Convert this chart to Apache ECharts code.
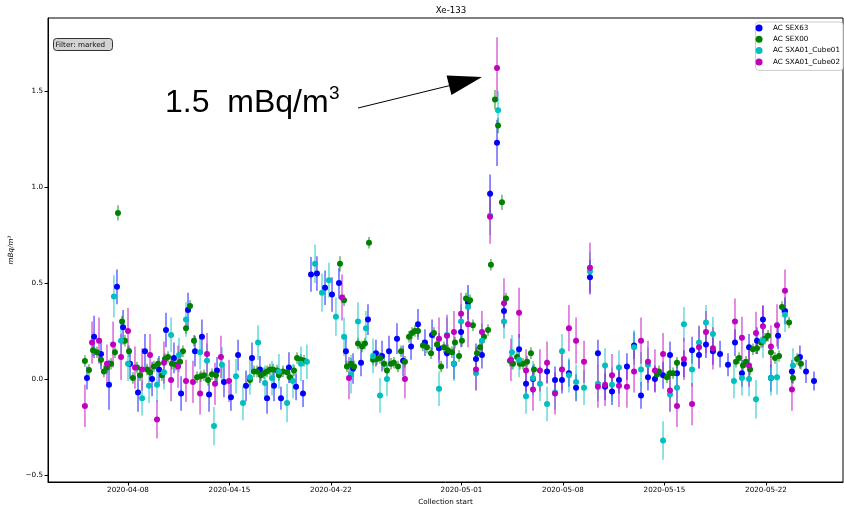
<!DOCTYPE html>
<html>
<head>
<meta charset="utf-8">
<script src="https://cdn.jsdelivr.net/npm/echarts@6/dist/echarts.min.js"></script>
<style>
  html, body { margin: 0; padding: 0; background: #fff; }
  #chart { width: 844px; height: 506px; }
</style>
</head>
<body>
<div id="chart"></div>
<script>
// x values are days since 2020-04-01 00:00 UTC, then value and error (mBq/m3)
const sex63 = [
  [4.17, 0.005, 0.06], [4.66, 0.22, 0.11], [5.14, 0.13, 0.08], [5.69, -0.03, 0.13], [6.24, 0.48, 0.09],
  [6.66, 0.27, 0.09], [7.14, 0.08, 0.08], [7.69, -0.07, 0.10], [8.17, 0.145, 0.09], [8.66, 0.0, 0.09],
  [9.14, 0.05, 0.07], [9.62, 0.255, 0.09], [10.17, 0.11, 0.08], [10.66, -0.075, 0.09], [11.14, 0.36, 0.09],
  [11.62, 0.145, 0.08], [12.10, 0.22, 0.09], [12.59, -0.08, 0.09], [13.14, 0.045, 0.07], [13.62, -0.015, 0.08],
  [14.10, -0.095, 0.07], [14.59, 0.125, 0.08], [15.14, -0.035, 0.08], [15.55, 0.11, 0.08], [16.10, 0.05, 0.07],
  [16.59, -0.10, 0.08], [17.07, -0.035, 0.08], [17.55, -0.10, 0.06], [18.10, 0.06, 0.08], [18.59, -0.04, 0.07],
  [19.07, -0.075, 0.07], [19.62, 0.545, 0.09], [20.03, 0.55, 0.09], [20.59, 0.475, 0.09], [21.07, 0.44, 0.09],
  [21.55, 0.50, 0.08], [22.03, 0.145, 0.08], [22.52, 0.055, 0.08], [23.07, 0.085, 0.07], [23.55, 0.31, 0.08],
  [24.10, 0.135, 0.07], [24.52, 0.12, 0.08], [25.0, 0.145, 0.08], [25.55, 0.21, 0.08], [25.97, 0.095, 0.08],
  [26.52, 0.17, 0.07], [27.0, 0.285, 0.08], [27.48, 0.19, 0.07], [27.97, 0.23, 0.08], [28.45, 0.16, 0.08],
  [29.0, 0.135, 0.08], [29.48, 0.08, 0.08], [29.97, 0.245, 0.08], [30.45, 0.40, 0.09], [31.0, 0.105, 0.08],
  [31.41, 0.125, 0.07], [31.97, 0.965, 0.10], [32.45, 1.23, 0.12], [32.93, 0.355, 0.08], [33.97, 0.155, 0.08],
  [34.45, -0.025, 0.07], [34.93, 0.0, 0.07], [35.90, 0.04, 0.06], [36.45, -0.005, 0.07], [36.93, -0.005, 0.07],
  [37.41, 0.03, 0.07], [37.90, -0.045, 0.07], [38.86, 0.53, 0.09], [39.41, 0.135, 0.07], [39.90, -0.04, 0.07],
  [40.38, -0.065, 0.07], [40.86, -0.005, 0.07], [41.41, 0.065, 0.07], [41.90, 0.175, 0.07], [42.38, -0.085, 0.07],
  [42.86, 0.01, 0.07], [43.34, 0.0, 0.07], [43.90, 0.02, 0.07], [44.38, 0.125, 0.07], [44.86, 0.03, 0.07],
  [45.34, 0.08, 0.07], [45.90, 0.15, 0.07], [46.38, 0.125, 0.07], [46.86, 0.18, 0.07], [47.34, 0.145, 0.07],
  [47.83, 0.13, 0.07], [48.38, 0.075, 0.06], [48.86, 0.19, 0.07], [49.34, 0.03, 0.07], [49.83, 0.165, 0.07],
  [50.38, 0.20, 0.07], [50.79, 0.31, 0.07], [51.34, 0.005, 0.07], [51.83, 0.225, 0.07], [52.31, 0.355, 0.07],
  [52.79, 0.04, 0.06], [53.34, 0.115, 0.06], [53.76, 0.04, 0.06], [54.31, -0.01, 0.05]
]
const sex00 = [
  [4.03, 0.094, 0.03], [4.31, 0.047, 0.03], [4.59, 0.15, 0.03], [4.86, 0.14, 0.03], [5.14, 0.10, 0.03],
  [5.34, 0.04, 0.03], [5.55, 0.06, 0.03], [5.83, 0.08, 0.03], [6.10, 0.14, 0.03], [6.31, 0.865, 0.04],
  [6.59, 0.30, 0.03], [6.79, 0.20, 0.03], [7.07, 0.145, 0.03], [7.34, 0.005, 0.03], [7.62, 0.06, 0.03],
  [7.83, 0.02, 0.03], [8.31, 0.05, 0.03], [8.52, 0.035, 0.03], [8.79, 0.065, 0.03], [9.07, 0.08, 0.03],
  [9.34, 0.02, 0.03], [9.55, 0.105, 0.03], [9.76, 0.115, 0.03], [10.03, 0.08, 0.03], [10.31, 0.075, 0.03],
  [10.59, 0.09, 0.03], [10.79, 0.145, 0.03], [11.0, 0.265, 0.03], [11.28, 0.38, 0.03], [11.55, 0.20, 0.03],
  [11.76, 0.01, 0.03], [12.03, 0.015, 0.03], [12.24, 0.02, 0.03], [12.52, -0.005, 0.03], [12.79, 0.025, 0.03],
  [13.07, 0.02, 0.03], [15.41, -0.005, 0.03], [15.69, 0.04, 0.03], [15.90, 0.04, 0.03], [16.17, 0.02, 0.03],
  [16.38, 0.03, 0.03], [16.59, 0.04, 0.03], [16.79, 0.05, 0.03], [17.0, 0.05, 0.03], [17.28, 0.045, 0.03],
  [17.41, 0.02, 0.03], [17.69, 0.04, 0.03], [17.97, 0.035, 0.03], [18.17, 0.01, 0.03], [18.45, 0.045, 0.03],
  [18.66, 0.11, 0.03], [18.93, 0.10, 0.03], [19.14, 0.095, 0.03], [21.62, 0.60, 0.04], [21.90, 0.41, 0.03],
  [22.10, 0.065, 0.03], [22.38, 0.08, 0.03], [22.59, 0.065, 0.03], [22.86, 0.185, 0.03], [23.14, 0.17, 0.03],
  [23.34, 0.185, 0.03], [23.62, 0.71, 0.03], [23.90, 0.10, 0.03], [24.17, 0.105, 0.03], [24.38, 0.11, 0.03],
  [24.66, 0.08, 0.03], [24.86, 0.045, 0.03], [25.14, 0.08, 0.03], [25.34, 0.085, 0.03], [25.62, 0.065, 0.03],
  [25.83, 0.145, 0.03], [26.10, 0.09, 0.03], [26.38, 0.22, 0.03], [26.59, 0.24, 0.03], [26.79, 0.25, 0.03],
  [27.0, 0.25, 0.03], [27.34, 0.175, 0.03], [27.62, 0.165, 0.03], [27.90, 0.135, 0.03], [28.10, 0.24, 0.03],
  [28.31, 0.18, 0.03], [28.59, 0.065, 0.03], [28.79, 0.165, 0.03], [29.07, 0.15, 0.03], [29.34, 0.14, 0.03],
  [29.55, 0.19, 0.03], [29.83, 0.12, 0.03], [30.03, 0.20, 0.03], [30.31, 0.42, 0.03], [30.59, 0.41, 0.03],
  [30.79, 0.28, 0.03], [31.07, 0.135, 0.03], [31.28, 0.165, 0.03], [31.55, 0.22, 0.03], [31.83, 0.255, 0.03],
  [32.03, 0.595, 0.03], [32.31, 1.455, 0.05], [32.52, 1.32, 0.04], [32.79, 0.92, 0.04], [33.07, 0.42, 0.03],
  [33.34, 0.095, 0.03], [33.55, 0.08, 0.03], [33.83, 0.115, 0.03], [34.03, 0.08, 0.03], [34.24, 0.08, 0.03],
  [34.52, 0.09, 0.03], [34.79, 0.135, 0.03], [35.0, 0.05, 0.03], [43.48, 0.025, 0.03], [43.62, 0.04, 0.03],
  [44.17, 0.01, 0.03], [44.38, 0.03, 0.03], [44.59, 0.03, 0.03], [44.86, 0.085, 0.03], [48.93, 0.09, 0.03],
  [49.14, 0.11, 0.03], [49.41, 0.07, 0.03], [49.62, 0.09, 0.03], [49.90, 0.05, 0.03], [50.10, 0.155, 0.03],
  [50.38, 0.16, 0.03], [50.66, 0.19, 0.03], [50.93, 0.21, 0.03], [51.14, 0.225, 0.03], [51.34, 0.14, 0.03],
  [51.62, 0.11, 0.03], [51.90, 0.12, 0.03], [52.10, 0.375, 0.03], [52.59, 0.295, 0.03], [52.86, 0.005, 0.03],
  [53.14, 0.105, 0.03], [53.41, 0.08, 0.03]
]
const cube01 = [
  [6.03, 0.43, 0.11], [6.52, 0.20, 0.09], [7.0, 0.08, 0.09], [7.97, -0.10, 0.09], [8.45, -0.035, 0.09],
  [9.0, -0.03, 0.09], [9.48, 0.035, 0.09], [9.97, 0.23, 0.09], [10.52, 0.125, 0.09], [11.0, 0.31, 0.09],
  [11.97, 0.14, 0.09], [12.45, 0.095, 0.09], [12.93, -0.245, 0.10], [13.48, 0.075, 0.09], [14.45, 0.015, 0.09],
  [14.93, -0.125, 0.09], [15.41, 0.01, 0.09], [15.97, 0.19, 0.09], [16.45, -0.02, 0.09], [16.93, 0.005, 0.09],
  [17.41, 0.04, 0.09], [17.97, -0.125, 0.10], [18.38, -0.01, 0.09], [18.93, 0.08, 0.09], [19.34, 0.09, 0.09],
  [19.90, 0.60, 0.10], [20.38, 0.45, 0.10], [20.86, 0.515, 0.09], [21.34, 0.325, 0.10], [21.90, 0.22, 0.10],
  [22.38, 0.025, 0.10], [22.86, 0.30, 0.10], [23.41, 0.265, 0.09], [23.90, 0.12, 0.09], [24.38, -0.085, 0.09],
  [24.86, 0.0, 0.09], [28.45, -0.05, 0.09], [29.0, 0.23, 0.09], [29.48, 0.08, 0.09], [29.97, 0.30, 0.09],
  [30.45, 0.375, 0.09], [31.0, 0.03, 0.09], [31.41, 0.20, 0.09], [31.97, 0.85, 0.10], [32.52, 1.40, 0.10],
  [32.93, 0.30, 0.09], [33.48, 0.14, 0.09], [33.97, 0.10, 0.09], [34.45, -0.09, 0.09], [34.93, 0.005, 0.09],
  [35.41, -0.025, 0.09], [35.90, -0.13, 0.09], [36.45, -0.07, 0.09], [36.93, 0.145, 0.09], [37.41, 0.02, 0.09],
  [37.90, -0.015, 0.09], [38.45, -0.045, 0.09], [38.86, 0.56, 0.10], [39.41, -0.025, 0.09], [39.90, 0.07, 0.09],
  [40.38, -0.03, 0.09], [40.86, 0.06, 0.09], [41.90, 0.165, 0.09], [42.38, 0.05, 0.09], [42.86, 0.075, 0.09],
  [43.90, -0.32, 0.10], [44.38, -0.08, 0.09], [44.86, -0.045, 0.09], [45.34, 0.285, 0.09], [45.90, 0.05, 0.09],
  [46.38, 0.19, 0.09], [46.86, 0.295, 0.09], [47.34, 0.235, 0.09], [48.79, -0.01, 0.09], [49.34, 0.005, 0.09],
  [49.83, 0.0, 0.09], [50.31, -0.105, 0.10], [50.79, 0.20, 0.09], [51.34, 0.005, 0.09], [51.76, 0.01, 0.09],
  [52.31, 0.335, 0.09], [52.86, 0.07, 0.09]
]
const cube02 = [
  [4.03, -0.14, 0.11], [4.52, 0.19, 0.11], [5.0, 0.20, 0.12], [5.55, 0.08, 0.10], [5.97, 0.18, 0.12],
  [6.52, 0.115, 0.12], [7.0, 0.25, 0.12], [7.48, 0.06, 0.11], [7.97, 0.05, 0.11], [8.52, 0.125, 0.11],
  [9.0, -0.21, 0.10], [9.48, 0.085, 0.11], [9.97, -0.005, 0.11], [10.45, 0.065, 0.11], [11.0, -0.01, 0.11],
  [11.48, -0.015, 0.11], [11.97, -0.075, 0.11], [12.45, 0.13, 0.11], [13.0, -0.025, 0.11], [13.41, 0.115, 0.11],
  [13.97, -0.01, 0.11], [21.76, 0.425, 0.12], [22.24, 0.005, 0.11], [26.10, 0.0, 0.10], [28.45, 0.21, 0.11],
  [29.0, 0.225, 0.11], [29.48, 0.245, 0.11], [29.97, 0.34, 0.11], [30.45, 0.285, 0.12], [31.0, 0.05, 0.11],
  [31.41, 0.245, 0.11], [31.97, 0.845, 0.14], [32.45, 1.62, 0.16], [32.93, 0.395, 0.13], [33.41, 0.10, 0.11],
  [33.97, 0.345, 0.13], [34.45, 0.045, 0.11], [34.93, -0.055, 0.11], [35.41, 0.045, 0.11], [35.90, 0.085, 0.11],
  [36.45, -0.075, 0.11], [36.93, 0.05, 0.11], [37.41, 0.265, 0.12], [37.90, 0.20, 0.12], [38.45, 0.09, 0.11],
  [38.86, 0.58, 0.13], [39.41, -0.04, 0.11], [39.90, -0.03, 0.11], [40.38, 0.02, 0.11], [40.86, -0.035, 0.11],
  [41.41, -0.04, 0.11], [41.90, 0.04, 0.11], [42.38, 0.20, 0.12], [42.86, 0.09, 0.11], [43.34, 0.045, 0.11],
  [43.90, 0.13, 0.11], [44.38, -0.06, 0.11], [44.86, -0.14, 0.11], [45.34, 0.105, 0.11], [45.90, -0.13, 0.11],
  [46.38, 0.165, 0.11], [46.86, 0.245, 0.11], [47.34, 0.16, 0.11], [48.86, 0.30, 0.12], [49.34, 0.215, 0.11],
  [49.83, 0.07, 0.11], [50.31, 0.24, 0.11], [50.79, 0.275, 0.11], [51.34, 0.17, 0.11], [51.76, 0.28, 0.11],
  [52.31, 0.46, 0.11], [52.79, -0.055, 0.11]
]

const seriesNames = ['AC SEX63', 'AC SEX00', 'AC SXA01_Cube01', 'AC SXA01_Cube02']
const colorList = ['#0000ff', '#008000', '#00bfbf', '#bf00bf']
const xTickLabels = ['2020-04-08', '2020-04-15', '2020-04-22', '2020-05-01', '2020-05-08', '2020-05-15', '2020-05-22']
const yTicks = [-0.5, 0, 0.5, 1.0, 1.5]

const DAY = 86400000
const T0 = Date.UTC(2020, 3, 1)
// tick label string -> days since 2020-04-01
const labelToDay = s => {
  const p = s.split('-').map(Number)
  return Math.round((Date.UTC(p[0], p[1] - 1, p[2]) - T0) / DAY)
}
const xTicks = xTickLabels.map(labelToDay)

const FONT = 'DejaVu Sans'
const FS = 7.2
const chart = echarts.init(document.getElementById('chart'))

const allData = [sex63, sex00, cube01, cube02]
const series = []
allData.forEach((rows, i) => {
  const color = colorList[i]
  // error bars
  series.push({
    name: seriesNames[i] + ' err',
    type: 'custom',
    clip: true,
    data: rows,
    encode: { x: 0, y: 1 },
    renderItem: function (params, api) {
      const x = api.value(0)
      const v = api.value(1)
      const e = api.value(2)
      const p1 = api.coord([x, v - e])
      const p2 = api.coord([x, v + e])
      return {
        type: 'line',
        shape: { x1: p1[0], y1: p1[1], x2: p2[0], y2: p2[1] },
        style: { stroke: color, lineWidth: 1.5, opacity: 0.6 }
      }
    }
  })
  series.push({
    name: seriesNames[i],
    type: 'scatter',
    symbol: 'circle',
    symbolSize: 6,
    data: rows.map(d => [d[0], d[1]]),
    itemStyle: { color: color, opacity: 1 }
  })
})

const option = {
  animation: false,
  title: {
    text: 'Xe-133',
    left: 446,
    top: 1,
    textAlign: 'center',
    textStyle: { fontFamily: FONT, fontSize: 8.6, fontWeight: 'normal', color: '#000' }
  },
  legend: {
    orient: 'vertical',
    right: 1,
    top: 22,
    padding: [1.5, 3, 4, 0],
    itemWidth: 18,
    itemHeight: 7,
    itemGap: 2.3,
    backgroundColor: '#fff',
    borderColor: '#ccc',
    borderWidth: 1,
    borderRadius: 3,
    textStyle: { fontFamily: FONT, fontSize: FS, color: '#000', lineHeight: 9 },
    data: seriesNames.map((n, i) => ({ name: n, icon: 'circle', itemStyle: { color: colorList[i] } }))
  },
  grid: {
    left: 48,
    right: 1,
    top: 18,
    bottom: 24,
    show: true,
    borderColor: '#000',
    borderWidth: 1,
    containLabel: false,
    outerBoundsMode: 'none'
  },
  xAxis: {
    type: 'value',
    min: 1.483,
    max: 56.31,
    name: 'Collection start',
    nameLocation: 'middle',
    nameGap: 15,
    nameTextStyle: { fontFamily: FONT, fontSize: FS, color: '#000' },
    axisLine: { onZero: false, lineStyle: { color: '#000', width: 1 } },
    axisTick: { show: true, length: 3.5, lineStyle: { color: '#000' }, customValues: xTicks },
    axisLabel: {
      fontFamily: FONT,
      fontSize: FS,
      color: '#000',
      margin: 5,
      customValues: xTicks,
      formatter: v => xTickLabels[xTicks.indexOf(Math.round(v))] || ''
    },
    splitLine: { show: false }
  },
  yAxis: {
    type: 'value',
    min: -0.536,
    max: 1.88,
    name: 'mBq/m³',
    nameLocation: 'middle',
    nameRotate: 90,
    nameGap: 29,
    nameTextStyle: { fontFamily: FONT, fontSize: FS, fontStyle: 'italic', color: '#000' },
    axisLine: { show: true, onZero: false, lineStyle: { color: '#000', width: 1 } },
    axisTick: { show: true, length: 3.5, lineStyle: { color: '#000' }, customValues: yTicks },
    axisLabel: {
      fontFamily: FONT,
      fontSize: FS,
      color: '#000',
      margin: 5,
      customValues: yTicks,
      formatter: v => v.toFixed(1).replace('-', '\u2212')
    },
    splitLine: { show: false }
  },
  graphic: [
    {
      type: 'group',
      left: 53,
      top: 38,
      children: [
        { type: 'rect', shape: { x: 0.5, y: 0.5, width: 59, height: 12, r: 3 }, style: { fill: '#d3d3d3', stroke: '#333', lineWidth: 1 } },
        { type: 'text', x: 2.5, y: 7, style: { text: 'Filter: marked', font: FS + 'px "DejaVu Sans"', fill: '#111', verticalAlign: 'middle' } }
      ]
    },
    {
      type: 'text',
      x: 165,
      y: 87.5,
      style: { text: '1.5  mBq/m', font: '32px "Liberation Sans"', fill: '#000', verticalAlign: 'top' }
    },
    {
      type: 'text',
      x: 329,
      y: 84,
      style: { text: '3', font: '19px "Liberation Sans"', fill: '#000', verticalAlign: 'top' }
    },
    {
      type: 'line',
      shape: { x1: 358, y1: 108, x2: 452, y2: 85 },
      style: { stroke: '#000', lineWidth: 1 }
    },
    {
      type: 'polygon',
      shape: { points: [[482, 77], [451.4, 95], [446.6, 75.6]] },
      style: { fill: '#000' }
    }
  ],
  series: series
}

chart.setOption(option)
</script>
</body>
</html>
